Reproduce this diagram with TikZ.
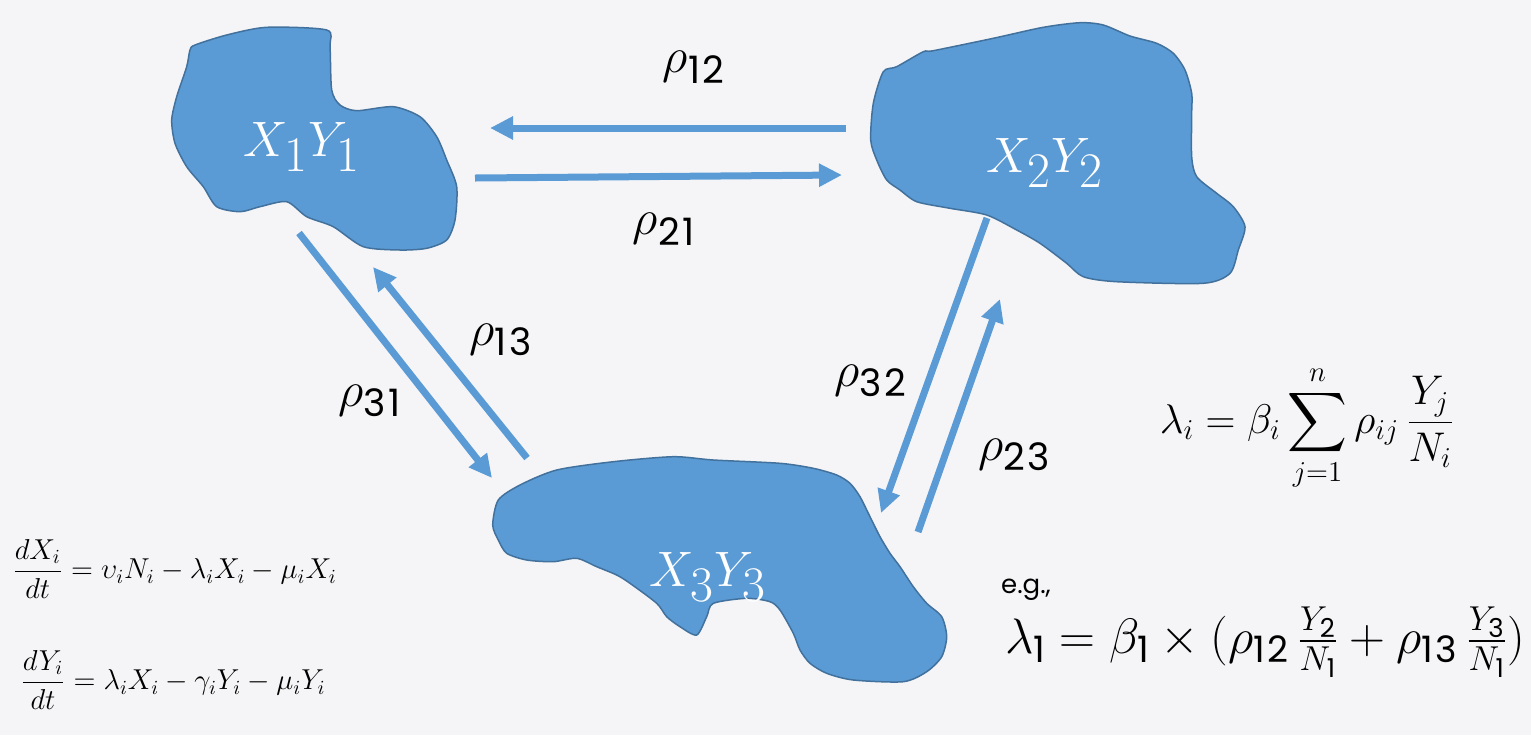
\documentclass[tikz,border=0pt]{standalone}
\usepackage{fontspec}
\usepackage{amsmath}
\usetikzlibrary{arrows.meta}
\newfontfamily\gsans[LetterSpace=6]{Poppins}
\newfontfamily\egfont{Poppins}
\definecolor{bgc}{RGB}{245,245,247}
\definecolor{blobfill}{RGB}{91,155,213}
\definecolor{blobline}{RGB}{65,113,156}
\definecolor{arrowc}{RGB}{91,155,213}
\newcommand{\sd}[1]{\text{\gsans #1}}
\begin{document}
\begin{tikzpicture}[x=0.5pt,y=-0.5pt,
  blob/.style={fill=blobfill,draw=blobline,line width=0.75pt},
  flow/.style={draw=arrowc,line width=3.5pt,-{Triangle[length=11.5pt,width=11pt]}},
  blobtxt/.style={text=white,inner sep=0pt,font=\fontsize{34}{40}\selectfont},
  rholab/.style={inner sep=0pt,text=black,font=\fontsize{27}{32}\selectfont},
  eqsmall/.style={inner sep=0pt,anchor=west,text=black,font=\fontsize{14.5}{17}\selectfont},
  eqbig/.style={inner sep=0pt,text=black,font=\fontsize{20}{24}\selectfont}]
\fill[bgc] (0,0) rectangle (1531,735);
\useasboundingbox (0,0) rectangle (1531,735);

% blob 1
\draw[blob] plot[smooth cycle,tension=0.45] coordinates {
 (195,45) (226.7,35) (266.7,27.3) (326.7,30) (330,46.7) (331.7,90) (340,105)
 (356.7,110.7) (393.3,106.7) (420,116.7) (436.7,136.7) (446.7,160) (456.7,186.7)
 (455,220) (446.7,240) (426.7,248.3) (400,250) (363.3,246.7) (333.3,226.7)
 (306.7,216.7) (286.7,201.7) (260,206.7) (240,211.7) (216.7,206.7) (203.3,186.7)
 (186.7,166.7) (175,143.3) (171.7,120) (176.7,96.7) (186.7,66.7) (190,50)};
% blob 2
\draw[blob] plot[smooth cycle,tension=0.45] coordinates {
 (883.3,71.7) (896.7,66.7) (923.3,51.7) (933.3,50.7) (993.3,38.3) (1043.3,27.3)
 (1080,22.7) (1103.3,25) (1130,36) (1156.7,43.3) (1173.3,53.3) (1185,70)
 (1191.7,93.3) (1191.7,113.3) (1191.7,156.7) (1196.7,176.7) (1216.7,193.3)
 (1233.3,206.7) (1245,226.7) (1238.3,250) (1230,273.3) (1203.3,283.3)
 (1116.7,281.7) (1083.3,276.7) (1066.7,263.3) (1040,243.3) (1016.7,230)
 (986.7,215) (950,208.3) (916.7,201.7) (900,190) (886.7,180) (876.7,160)
 (870.7,140) (873.3,103.3)};
% blob 3
\draw[blob] plot[smooth cycle,tension=0.45] coordinates {
 (498.3,500) (520,485) (556.7,470) (613.3,461.7) (673.3,456.7) (713.3,460)
 (780,463.3) (813.3,468.3) (836.7,475) (850,483.3) (860,496.7) (870,516.7)
 (880,536.7) (890,553.3) (900,566.7) (913.3,586.7) (926.7,603.3) (941.7,616.7)
 (946.7,636.7) (941.7,656.7) (926.7,671.7) (903.3,681.7) (853.3,680)
 (826.7,673.3) (810,663.3) (800,650) (793.3,633.3) (780,610) (770,601.7)
 (746.7,598.3) (713.3,603.3) (706.7,616.7) (696.7,635) (680,626.7) (666.7,616.7)
 (656.7,603.3) (630,583.3) (616.7,575) (596.7,566.7) (576.7,558.3) (553.3,561.7)
 (526.7,560) (506.7,553.3) (498.3,540) (492.7,525)};

\node[blobtxt] (b1) at (302,147) {$X_1Y_1$};
\node[blobtxt] (b2) at (1045,163) {$X_2Y_2$};
\node[blobtxt] (b3) at (708,577) {$X_3Y_3$};

% arrow end points
\coordinate (a12s) at (846,128);  \coordinate (a12e) at (490,128);
\coordinate (a21s) at (475,178);  \coordinate (a21e) at (842,175);
\coordinate (a31s) at (299,233);  \coordinate (a31e) at (492,478);
\coordinate (a13s) at (527,458);  \coordinate (a13e) at (373,267);
\coordinate (a32s) at (987,218);  \coordinate (a32e) at (881,513);
\coordinate (a23s) at (918,532);  \coordinate (a23e) at (1000,299);

\draw[flow] (a12s) -- (a12e);
\draw[flow] (a21s) -- (a21e);
\draw[flow] (a31s) -- (a31e);
\draw[flow] (a13s) -- (a13e);
\draw[flow] (a32s) -- (a32e);
\draw[flow] (a23s) -- (a23e);

\node[rholab] (l12) at (694,67) {$\rho_{\sd{12}}$};
\node[rholab] (l21) at (664,229) {$\rho_{\sd{21}}$};
\node[rholab] (l13) at (501,340) {$\rho_{\sd{13}}$};
\node[rholab] (l31) at (370,401) {$\rho_{\sd{31}}$};
\node[rholab] (l32) at (871,381) {$\rho_{\sd{32}}$};
\node[rholab] (l23) at (1015,455) {$\rho_{\sd{23}}$};

\node[eqsmall] (e1) at (12,569) {$\dfrac{dX_i}{dt}=\upsilon_iN_i-\lambda_iX_i-\mu_iX_i$};
\node[eqsmall] (e2) at (20,680) {$\dfrac{dY_i}{dt}=\lambda_iX_i-\gamma_iY_i-\mu_iY_i$};

\node[eqbig] (e3) at (1307,428) {$\displaystyle \lambda_i=\beta_i\sum_{j=1}^{n}\rho_{ij}\,\frac{Y_j}{N_i}$};
\node[inner sep=0pt,text=black,font=\egfont\fontsize{13}{15}\selectfont] (eg) at (1026,590) {e.g.,};
\node[eqbig,font=\fontsize{26}{30}\selectfont] (e4) at (1265,642) {$\lambda_{\sd{1}}=\beta_{\sd{1}}\times(\rho_{\sd{12}}\,\frac{Y_{\sd{2}}}{N_{\sd{1}}}+\rho_{\sd{13}}\,\frac{Y_{\sd{3}}}{N_{\sd{1}}})$};
\end{tikzpicture}
\end{document}
